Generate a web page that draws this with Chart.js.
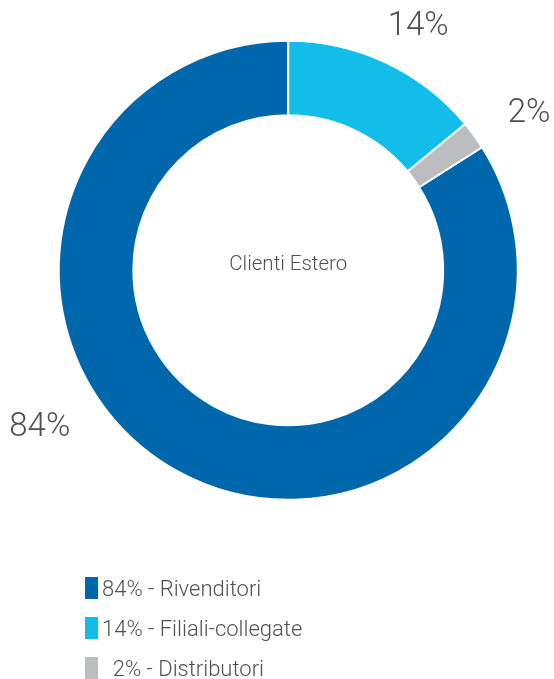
<!DOCTYPE html>
<html>
<head>
<meta charset="utf-8">
<script src="https://cdn.jsdelivr.net/npm/chart.js@4/dist/chart.umd.min.js"></script>
<style>
  html, body { margin: 0; padding: 0; background: #ffffff; }
  #wrap { position: relative; width: 554px; height: 679px; }
</style>
</head>
<body>
<div id="wrap"><canvas id="c" width="554" height="679"></canvas></div>
<script>
// ---- data ----
const categories = ["Rivenditori", "Filiali-collegate", "Distributori"];
const values = [84, 14, 2];
const sliceLabels = ["84%", "14%", "2%"];
const legendLabels = ["84% - Rivenditori", "14% - Filiali-collegate", "  2% - Distributori"];
const centerTitle = "Clienti Estero";

// ---- style ----
const colors = ["#0067ad", "#12bde9", "#bcbdc1"];
const textColor = "#505050";
const FONT = "Roboto, 'Liberation Sans', sans-serif";

const total = values.reduce((a, b) => a + b, 0);
// first slice ends at 12 o'clock
const rotation = 360 * (total - values[0]) / total;

// label placement: fraction along slice, distance beyond the outer rim
const labelPlacement = [
  { frac: 0.596, dist: 64 },
  { frac: 0.556, dist: 47 },
  { frac: 0.9, dist: 58 }
];

const outsideLabels = {
  id: 'outsideLabels',
  afterDatasetsDraw(chart) {
    const ctx = chart.ctx;
    const meta = chart.getDatasetMeta(0);
    ctx.save();
    ctx.font = "300 33px " + FONT;
    ctx.fillStyle = textColor;
    ctx.textAlign = 'center';
    ctx.textBaseline = 'middle';
    meta.data.forEach((arc, i) => {
      const p = arc.getProps(['x', 'y', 'startAngle', 'endAngle', 'outerRadius']);
      const pl = labelPlacement[i];
      const a = p.startAngle + (p.endAngle - p.startAngle) * pl.frac;
      const r = p.outerRadius + pl.dist;
      ctx.fillText(sliceLabels[i], p.x + r * Math.cos(a), p.y + r * Math.sin(a) + 1);
    });
    // center title
    const a0 = meta.data[0];
    ctx.font = "300 20.5px " + FONT;
    ctx.fillText(centerTitle, a0.x, a0.y - 5);
    ctx.restore();
  }
};

const listLegend = {
  id: 'listLegend',
  afterDraw(chart) {
    const ctx = chart.ctx;
    const o = chart.options.plugins.listLegend;
    ctx.save();
    ctx.font = "300 22px " + FONT;
    ctx.textBaseline = 'middle';
    ctx.textAlign = 'left';
    legendLabels.forEach((t, i) => {
      const y = o.top + i * o.step;
      ctx.fillStyle = colors[i];
      ctx.fillRect(o.left, y, o.boxW, o.boxH);
      ctx.fillStyle = textColor;
      ctx.fillText(t, o.left + o.boxW + o.gap, y + o.boxH / 2 + 2);
    });
    ctx.restore();
  }
};

new Chart(document.getElementById('c'), {
  type: 'doughnut',
  data: {
    labels: categories,
    datasets: [{
      data: values,
      backgroundColor: colors,
      borderColor: '#ffffff',
      borderWidth: 2,
      hoverOffset: 0
    }]
  },
  options: {
    responsive: false,
    animation: false,
    events: [],
    rotation: rotation,
    radius: 229.5,
    cutout: '67.5%',
    layout: { padding: { left: 59, right: 36.5, top: 41, bottom: 179.5 } },
    plugins: {
      legend: { display: false },
      tooltip: { enabled: false },
      listLegend: { left: 85, top: 577, step: 40, boxW: 13, boxH: 22, gap: 4 }
    }
  },
  plugins: [outsideLabels, listLegend]
});
</script>
</body>
</html>
